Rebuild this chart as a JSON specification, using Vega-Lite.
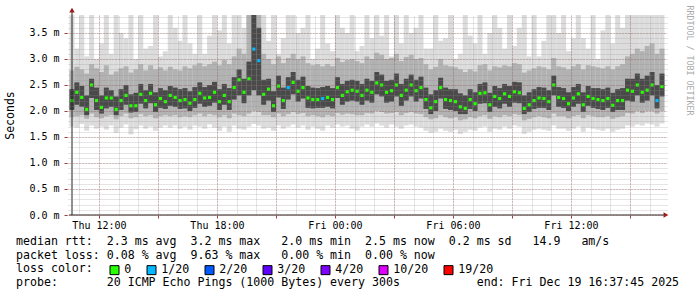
{
"$schema": "https://vega.github.io/schema/vega-lite/v6.json",
"width": 600, "height": 200,
"autosize": "none",
"padding": {"left": 67, "top": 15, "right": 30, "bottom": 82},
"background": "white",
"config": {"font": "DejaVu Sans Mono", "view": {"stroke": null},
  "axis": {"labelFont": "DejaVu Sans Mono", "titleFont": "DejaVu Sans Mono", "labelColor": "black", "titleColor": "black", "titleFontWeight": "normal", "labelFontSize": 10}},
"title": {
 "text": ["median rtt:\u00a0\u00a02.3 ms avg\u00a0\u00a03.2 ms max\u00a0\u00a0\u00a02.0 ms min\u00a0\u00a02.5 ms now\u00a0\u00a00.2 ms sd\u00a0\u00a0\u00a014.9\u00a0\u00a0\u00a0am/s",
  "packet loss: 0.08 % avg\u00a0\u00a09.63 % max\u00a0\u00a0\u00a00.00 % min\u00a0\u00a00.00 % now",
  "loss color:",
  "probe:\u00a0\u00a0\u00a0\u00a0\u00a0\u00a0\u00a020 ICMP Echo Pings (1000 Bytes) every 300s\u00a0\u00a0\u00a0\u00a0\u00a0\u00a0\u00a0\u00a0\u00a0\u00a0\u00a0end: Fri Dec 19 16:37:45 2025"],
 "orient": "bottom", "anchor": "start", "frame": "group", "dx": -51, "dy": -47, "offset": 6,
 "font": "DejaVu Sans Mono", "fontSize": 11.6, "fontWeight": "normal", "color": "black", "lineHeight": 13.7, "baseline": "top"
},
"datasets": {"smoke": [
{"t":"2025-12-18T10:37:30Z","mn":1.70,"lo":1.88,"q1":2.02,"md":2.20,"q3":2.42,"hi":2.78,"mx":3.9,"loss":"0"},
{"t":"2025-12-18T10:52:30Z","mn":1.68,"lo":1.90,"q1":2.12,"md":2.36,"q3":2.55,"hi":2.85,"mx":3.2,"loss":"0"},
{"t":"2025-12-18T11:07:30Z","mn":1.75,"lo":1.92,"q1":2.08,"md":2.26,"q3":2.48,"hi":2.80,"mx":3.9,"loss":"0"},
{"t":"2025-12-18T11:22:30Z","mn":1.62,"lo":1.85,"q1":1.92,"md":2.03,"q3":2.30,"hi":2.72,"mx":3.05,"loss":"0"},
{"t":"2025-12-18T11:37:30Z","mn":1.72,"lo":1.95,"q1":2.25,"md":2.50,"q3":2.62,"hi":2.90,"mx":3.9,"loss":"0"},
{"t":"2025-12-18T11:52:30Z","mn":1.66,"lo":1.88,"q1":2.02,"md":2.20,"q3":2.45,"hi":2.82,"mx":3.0,"loss":"0"},
{"t":"2025-12-18T12:07:30Z","mn":1.70,"lo":1.86,"q1":1.95,"md":2.07,"q3":2.30,"hi":2.75,"mx":3.3,"loss":"0"},
{"t":"2025-12-18T12:22:30Z","mn":1.64,"lo":1.90,"q1":2.05,"md":2.25,"q3":2.45,"hi":2.88,"mx":3.9,"loss":"0"},
{"t":"2025-12-18T12:37:30Z","mn":1.72,"lo":1.92,"q1":2.08,"md":2.25,"q3":2.40,"hi":2.70,"mx":3.1,"loss":"0"},
{"t":"2025-12-18T12:52:30Z","mn":1.58,"lo":1.84,"q1":1.92,"md":2.03,"q3":2.28,"hi":2.76,"mx":3.9,"loss":"0"},
{"t":"2025-12-18T13:07:30Z","mn":1.68,"lo":1.90,"q1":2.02,"md":2.20,"q3":2.42,"hi":2.82,"mx":3.5,"loss":"0"},
{"t":"2025-12-18T13:22:30Z","mn":1.74,"lo":1.95,"q1":2.12,"md":2.30,"q3":2.50,"hi":2.86,"mx":3.4,"loss":"0"},
{"t":"2025-12-18T13:37:30Z","mn":1.55,"lo":1.86,"q1":1.97,"md":2.10,"q3":2.32,"hi":2.74,"mx":3.9,"loss":"0"},
{"t":"2025-12-18T13:52:30Z","mn":1.65,"lo":1.88,"q1":1.98,"md":2.10,"q3":2.35,"hi":2.80,"mx":3.0,"loss":"0"},
{"t":"2025-12-18T14:07:30Z","mn":1.72,"lo":1.94,"q1":2.14,"md":2.32,"q3":2.52,"hi":2.90,"mx":3.9,"loss":"0"},
{"t":"2025-12-18T14:22:30Z","mn":1.66,"lo":1.90,"q1":2.05,"md":2.20,"q3":2.40,"hi":2.78,"mx":3.2,"loss":"0"},
{"t":"2025-12-18T14:37:30Z","mn":1.70,"lo":1.92,"q1":2.15,"md":2.34,"q3":2.52,"hi":2.88,"mx":3.25,"loss":"0"},
{"t":"2025-12-18T14:52:30Z","mn":1.62,"lo":1.86,"q1":1.98,"md":2.12,"q3":2.36,"hi":2.80,"mx":3.9,"loss":"0"},
{"t":"2025-12-18T15:07:30Z","mn":1.68,"lo":1.90,"q1":2.06,"md":2.24,"q3":2.44,"hi":2.84,"mx":3.05,"loss":"0"},
{"t":"2025-12-18T15:22:30Z","mn":1.72,"lo":1.92,"q1":2.04,"md":2.18,"q3":2.40,"hi":2.78,"mx":3.15,"loss":"0"},
{"t":"2025-12-18T15:37:30Z","mn":1.68,"lo":1.90,"q1":2.10,"md":2.30,"q3":2.48,"hi":2.85,"mx":3.9,"loss":"0"},
{"t":"2025-12-18T15:52:30Z","mn":1.72,"lo":1.92,"q1":2.08,"md":2.26,"q3":2.45,"hi":2.80,"mx":3.6,"loss":"0"},
{"t":"2025-12-18T16:07:30Z","mn":1.66,"lo":1.88,"q1":2.04,"md":2.20,"q3":2.42,"hi":2.78,"mx":3.35,"loss":"0"},
{"t":"2025-12-18T16:22:30Z","mn":1.70,"lo":1.90,"q1":2.05,"md":2.22,"q3":2.44,"hi":2.86,"mx":3.9,"loss":"0"},
{"t":"2025-12-18T16:37:30Z","mn":1.64,"lo":1.88,"q1":2.00,"md":2.15,"q3":2.38,"hi":2.82,"mx":3.3,"loss":"0"},
{"t":"2025-12-18T16:52:30Z","mn":1.72,"lo":1.92,"q1":2.06,"md":2.22,"q3":2.46,"hi":2.88,"mx":3.1,"loss":"0"},
{"t":"2025-12-18T17:07:30Z","mn":1.70,"lo":1.95,"q1":2.14,"md":2.34,"q3":2.55,"hi":2.92,"mx":3.9,"loss":"0"},
{"t":"2025-12-18T17:22:30Z","mn":1.66,"lo":1.90,"q1":2.08,"md":2.25,"q3":2.46,"hi":2.86,"mx":3.1,"loss":"0"},
{"t":"2025-12-18T17:37:30Z","mn":1.74,"lo":1.94,"q1":2.10,"md":2.26,"q3":2.50,"hi":2.90,"mx":3.45,"loss":"0"},
{"t":"2025-12-18T17:52:30Z","mn":1.68,"lo":1.92,"q1":2.16,"md":2.36,"q3":2.56,"hi":2.95,"mx":3.9,"loss":"0"},
{"t":"2025-12-18T18:07:30Z","mn":1.62,"lo":1.88,"q1":2.02,"md":2.18,"q3":2.42,"hi":2.88,"mx":3.55,"loss":"0"},
{"t":"2025-12-18T18:22:30Z","mn":1.70,"lo":1.92,"q1":2.12,"md":2.30,"q3":2.52,"hi":2.98,"mx":3.9,"loss":"0"},
{"t":"2025-12-18T18:37:30Z","mn":1.60,"lo":1.86,"q1":2.02,"md":2.18,"q3":2.44,"hi":2.90,"mx":3.3,"loss":"0"},
{"t":"2025-12-18T18:52:30Z","mn":1.72,"lo":1.95,"q1":2.22,"md":2.45,"q3":2.65,"hi":3.05,"mx":3.9,"loss":"0"},
{"t":"2025-12-18T19:07:30Z","mn":1.66,"lo":1.92,"q1":2.30,"md":2.60,"q3":2.80,"hi":3.20,"mx":3.9,"loss":"0"},
{"t":"2025-12-18T19:22:30Z","mn":1.64,"lo":1.90,"q1":2.15,"md":2.36,"q3":2.62,"hi":3.10,"mx":3.6,"loss":"0"},
{"t":"2025-12-18T19:37:30Z","mn":1.70,"lo":1.95,"q1":2.30,"md":2.62,"q3":2.95,"hi":3.9,"mx":3.9,"loss":"0"},
{"t":"2025-12-18T19:52:30Z","mn":1.75,"lo":2.00,"q1":2.40,"md":3.19,"q3":3.9,"hi":3.9,"mx":3.9,"loss":"1/20"},
{"t":"2025-12-18T20:07:30Z","mn":1.72,"lo":1.98,"q1":2.30,"md":2.97,"q3":3.6,"hi":3.9,"mx":3.9,"loss":"1/20"},
{"t":"2025-12-18T20:22:30Z","mn":1.66,"lo":1.92,"q1":2.12,"md":2.32,"q3":2.60,"hi":3.10,"mx":3.9,"loss":"0"},
{"t":"2025-12-18T20:37:30Z","mn":1.68,"lo":1.92,"q1":2.20,"md":2.42,"q3":2.62,"hi":3.00,"mx":3.35,"loss":"0"},
{"t":"2025-12-18T20:52:30Z","mn":1.62,"lo":1.88,"q1":1.98,"md":2.10,"q3":2.38,"hi":2.90,"mx":3.9,"loss":"0"},
{"t":"2025-12-18T21:07:30Z","mn":1.72,"lo":1.95,"q1":2.26,"md":2.48,"q3":2.68,"hi":3.05,"mx":3.1,"loss":"0"},
{"t":"2025-12-18T21:22:30Z","mn":1.66,"lo":1.90,"q1":2.04,"md":2.20,"q3":2.45,"hi":2.92,"mx":3.4,"loss":"0"},
{"t":"2025-12-18T21:37:30Z","mn":1.70,"lo":1.94,"q1":2.22,"md":2.45,"q3":2.65,"hi":3.02,"mx":3.9,"loss":"1/20"},
{"t":"2025-12-18T21:52:30Z","mn":1.74,"lo":1.98,"q1":2.32,"md":2.55,"q3":2.75,"hi":3.10,"mx":3.9,"loss":"0"},
{"t":"2025-12-18T22:07:30Z","mn":1.68,"lo":1.94,"q1":2.18,"md":2.38,"q3":2.60,"hi":3.00,"mx":3.5,"loss":"0"},
{"t":"2025-12-18T22:22:30Z","mn":1.72,"lo":1.96,"q1":2.24,"md":2.45,"q3":2.66,"hi":3.05,"mx":3.6,"loss":"0"},
{"t":"2025-12-18T22:37:30Z","mn":1.64,"lo":1.90,"q1":2.06,"md":2.25,"q3":2.48,"hi":2.92,"mx":3.9,"loss":"0"},
{"t":"2025-12-18T22:52:30Z","mn":1.70,"lo":1.92,"q1":2.05,"md":2.22,"q3":2.45,"hi":2.88,"mx":3.0,"loss":"0"},
{"t":"2025-12-18T23:07:30Z","mn":1.66,"lo":1.90,"q1":2.06,"md":2.22,"q3":2.44,"hi":2.90,"mx":3.2,"loss":"0"},
{"t":"2025-12-18T23:22:30Z","mn":1.62,"lo":1.88,"q1":2.06,"md":2.24,"q3":2.46,"hi":2.86,"mx":3.9,"loss":"1/20"},
{"t":"2025-12-18T23:37:30Z","mn":1.72,"lo":1.92,"q1":2.08,"md":2.26,"q3":2.48,"hi":2.90,"mx":3.3,"loss":"0"},
{"t":"2025-12-18T23:52:30Z","mn":1.68,"lo":1.90,"q1":2.05,"md":2.22,"q3":2.44,"hi":2.86,"mx":3.15,"loss":"0"},
{"t":"2025-12-19T00:07:30Z","mn":1.74,"lo":1.96,"q1":2.25,"md":2.45,"q3":2.65,"hi":3.02,"mx":3.9,"loss":"0"},
{"t":"2025-12-19T00:22:30Z","mn":1.70,"lo":1.93,"q1":2.12,"md":2.30,"q3":2.52,"hi":2.94,"mx":3.6,"loss":"0"},
{"t":"2025-12-19T00:37:30Z","mn":1.72,"lo":1.95,"q1":2.18,"md":2.37,"q3":2.58,"hi":2.98,"mx":3.5,"loss":"0"},
{"t":"2025-12-19T00:52:30Z","mn":1.66,"lo":1.94,"q1":2.20,"md":2.40,"q3":2.60,"hi":3.00,"mx":3.9,"loss":"0"},
{"t":"2025-12-19T01:07:30Z","mn":1.62,"lo":1.92,"q1":2.18,"md":2.38,"q3":2.58,"hi":2.96,"mx":3.15,"loss":"0"},
{"t":"2025-12-19T01:22:30Z","mn":1.70,"lo":1.92,"q1":2.12,"md":2.30,"q3":2.52,"hi":2.92,"mx":3.25,"loss":"0"},
{"t":"2025-12-19T01:37:30Z","mn":1.74,"lo":1.96,"q1":2.20,"md":2.40,"q3":2.62,"hi":3.05,"mx":3.9,"loss":"0"},
{"t":"2025-12-19T01:52:30Z","mn":1.70,"lo":1.95,"q1":2.16,"md":2.36,"q3":2.58,"hi":3.00,"mx":3.4,"loss":"0"},
{"t":"2025-12-19T02:07:30Z","mn":1.76,"lo":2.00,"q1":2.32,"md":2.54,"q3":2.75,"hi":3.12,"mx":3.9,"loss":"0"},
{"t":"2025-12-19T02:22:30Z","mn":1.72,"lo":1.98,"q1":2.28,"md":2.50,"q3":2.70,"hi":3.08,"mx":3.45,"loss":"0"},
{"t":"2025-12-19T02:37:30Z","mn":1.68,"lo":1.95,"q1":2.16,"md":2.36,"q3":2.58,"hi":3.00,"mx":3.9,"loss":"0"},
{"t":"2025-12-19T02:52:30Z","mn":1.74,"lo":1.96,"q1":2.18,"md":2.39,"q3":2.60,"hi":3.02,"mx":3.05,"loss":"0"},
{"t":"2025-12-19T03:07:30Z","mn":1.70,"lo":1.98,"q1":2.28,"md":2.50,"q3":2.72,"hi":3.10,"mx":3.9,"loss":"0"},
{"t":"2025-12-19T03:22:30Z","mn":1.66,"lo":1.92,"q1":2.10,"md":2.30,"q3":2.52,"hi":2.96,"mx":3.3,"loss":"0"},
{"t":"2025-12-19T03:37:30Z","mn":1.72,"lo":1.96,"q1":2.20,"md":2.40,"q3":2.62,"hi":3.04,"mx":3.9,"loss":"0"},
{"t":"2025-12-19T03:52:30Z","mn":1.74,"lo":1.98,"q1":2.28,"md":2.50,"q3":2.70,"hi":3.08,"mx":3.5,"loss":"0"},
{"t":"2025-12-19T04:07:30Z","mn":1.70,"lo":1.95,"q1":2.18,"md":2.39,"q3":2.60,"hi":3.00,"mx":3.6,"loss":"0"},
{"t":"2025-12-19T04:22:30Z","mn":1.68,"lo":1.94,"q1":2.24,"md":2.45,"q3":2.66,"hi":3.02,"mx":3.9,"loss":"0"},
{"t":"2025-12-19T04:37:30Z","mn":1.62,"lo":1.88,"q1":2.04,"md":2.22,"q3":2.45,"hi":2.90,"mx":3.2,"loss":"0"},
{"t":"2025-12-19T04:52:30Z","mn":1.58,"lo":1.84,"q1":1.94,"md":2.06,"q3":2.32,"hi":2.80,"mx":3.2,"loss":"0"},
{"t":"2025-12-19T05:07:30Z","mn":1.60,"lo":1.86,"q1":2.00,"md":2.18,"q3":2.40,"hi":2.85,"mx":3.9,"loss":"0"},
{"t":"2025-12-19T05:22:30Z","mn":1.66,"lo":1.92,"q1":2.24,"md":2.45,"q3":2.64,"hi":3.00,"mx":3.35,"loss":"0"},
{"t":"2025-12-19T05:37:30Z","mn":1.62,"lo":1.88,"q1":2.04,"md":2.22,"q3":2.45,"hi":2.88,"mx":3.4,"loss":"0"},
{"t":"2025-12-19T05:52:30Z","mn":1.60,"lo":1.86,"q1":2.02,"md":2.20,"q3":2.42,"hi":2.86,"mx":3.9,"loss":"0"},
{"t":"2025-12-19T06:07:30Z","mn":1.64,"lo":1.88,"q1":2.00,"md":2.18,"q3":2.42,"hi":2.84,"mx":3.0,"loss":"0"},
{"t":"2025-12-19T06:22:30Z","mn":1.56,"lo":1.82,"q1":1.94,"md":2.08,"q3":2.34,"hi":2.80,"mx":3.1,"loss":"0"},
{"t":"2025-12-19T06:37:30Z","mn":1.60,"lo":1.84,"q1":1.94,"md":2.05,"q3":2.30,"hi":2.75,"mx":3.9,"loss":"0"},
{"t":"2025-12-19T06:52:30Z","mn":1.64,"lo":1.88,"q1":2.04,"md":2.22,"q3":2.42,"hi":2.80,"mx":3.45,"loss":"0"},
{"t":"2025-12-19T07:07:30Z","mn":1.62,"lo":1.86,"q1":2.00,"md":2.14,"q3":2.36,"hi":2.76,"mx":3.3,"loss":"0"},
{"t":"2025-12-19T07:22:30Z","mn":1.68,"lo":1.90,"q1":2.14,"md":2.34,"q3":2.52,"hi":2.88,"mx":3.9,"loss":"0"},
{"t":"2025-12-19T07:37:30Z","mn":1.70,"lo":1.92,"q1":2.15,"md":2.35,"q3":2.55,"hi":2.90,"mx":3.1,"loss":"0"},
{"t":"2025-12-19T07:52:30Z","mn":1.60,"lo":1.85,"q1":1.98,"md":2.12,"q3":2.35,"hi":2.78,"mx":3.5,"loss":"0"},
{"t":"2025-12-19T08:07:30Z","mn":1.66,"lo":1.90,"q1":2.08,"md":2.28,"q3":2.48,"hi":2.86,"mx":3.9,"loss":"0"},
{"t":"2025-12-19T08:22:30Z","mn":1.64,"lo":1.88,"q1":2.05,"md":2.24,"q3":2.44,"hi":2.84,"mx":3.6,"loss":"0"},
{"t":"2025-12-19T08:37:30Z","mn":1.70,"lo":1.92,"q1":2.14,"md":2.33,"q3":2.52,"hi":2.88,"mx":3.2,"loss":"0"},
{"t":"2025-12-19T08:52:30Z","mn":1.66,"lo":1.90,"q1":2.08,"md":2.28,"q3":2.48,"hi":2.86,"mx":3.9,"loss":"0"},
{"t":"2025-12-19T09:07:30Z","mn":1.72,"lo":1.94,"q1":2.16,"md":2.37,"q3":2.56,"hi":2.92,"mx":3.25,"loss":"0"},
{"t":"2025-12-19T09:22:30Z","mn":1.70,"lo":1.92,"q1":2.15,"md":2.35,"q3":2.55,"hi":2.90,"mx":3.6,"loss":"0"},
{"t":"2025-12-19T09:37:30Z","mn":1.56,"lo":1.82,"q1":1.94,"md":2.05,"q3":2.30,"hi":2.74,"mx":3.9,"loss":"0"},
{"t":"2025-12-19T09:52:30Z","mn":1.60,"lo":1.85,"q1":1.98,"md":2.12,"q3":2.36,"hi":2.78,"mx":3.05,"loss":"0"},
{"t":"2025-12-19T10:07:30Z","mn":1.64,"lo":1.88,"q1":2.04,"md":2.20,"q3":2.42,"hi":2.82,"mx":3.9,"loss":"0"},
{"t":"2025-12-19T10:22:30Z","mn":1.66,"lo":1.90,"q1":2.06,"md":2.25,"q3":2.46,"hi":2.86,"mx":3.05,"loss":"0"},
{"t":"2025-12-19T10:37:30Z","mn":1.64,"lo":1.88,"q1":2.06,"md":2.24,"q3":2.45,"hi":2.84,"mx":3.35,"loss":"0"},
{"t":"2025-12-19T10:52:30Z","mn":1.62,"lo":1.86,"q1":2.02,"md":2.18,"q3":2.40,"hi":2.80,"mx":3.9,"loss":"0"},
{"t":"2025-12-19T11:07:30Z","mn":1.72,"lo":1.95,"q1":2.30,"md":2.50,"q3":2.68,"hi":3.02,"mx":3.9,"loss":"0"},
{"t":"2025-12-19T11:22:30Z","mn":1.66,"lo":1.90,"q1":2.08,"md":2.26,"q3":2.46,"hi":2.86,"mx":3.5,"loss":"0"},
{"t":"2025-12-19T11:37:30Z","mn":1.66,"lo":1.90,"q1":2.06,"md":2.24,"q3":2.44,"hi":2.84,"mx":3.9,"loss":"0"},
{"t":"2025-12-19T11:52:30Z","mn":1.62,"lo":1.86,"q1":2.00,"md":2.14,"q3":2.36,"hi":2.80,"mx":3.15,"loss":"0"},
{"t":"2025-12-19T12:07:30Z","mn":1.66,"lo":1.90,"q1":2.08,"md":2.25,"q3":2.46,"hi":2.86,"mx":3.4,"loss":"0"},
{"t":"2025-12-19T12:22:30Z","mn":1.70,"lo":1.92,"q1":2.14,"md":2.33,"q3":2.52,"hi":2.90,"mx":3.9,"loss":"0"},
{"t":"2025-12-19T12:37:30Z","mn":1.60,"lo":1.86,"q1":1.98,"md":2.12,"q3":2.36,"hi":2.80,"mx":3.4,"loss":"0"},
{"t":"2025-12-19T12:52:30Z","mn":1.68,"lo":1.92,"q1":2.10,"md":2.28,"q3":2.48,"hi":2.88,"mx":3.2,"loss":"0"},
{"t":"2025-12-19T13:07:30Z","mn":1.66,"lo":1.90,"q1":2.06,"md":2.24,"q3":2.44,"hi":2.86,"mx":3.9,"loss":"0"},
{"t":"2025-12-19T13:22:30Z","mn":1.64,"lo":1.88,"q1":2.04,"md":2.22,"q3":2.44,"hi":2.84,"mx":3.0,"loss":"0"},
{"t":"2025-12-19T13:37:30Z","mn":1.62,"lo":1.88,"q1":2.02,"md":2.20,"q3":2.42,"hi":2.82,"mx":3.55,"loss":"0"},
{"t":"2025-12-19T13:52:30Z","mn":1.66,"lo":1.90,"q1":2.06,"md":2.24,"q3":2.45,"hi":2.86,"mx":3.9,"loss":"0"},
{"t":"2025-12-19T14:07:30Z","mn":1.60,"lo":1.85,"q1":1.98,"md":2.11,"q3":2.35,"hi":2.80,"mx":3.3,"loss":"0"},
{"t":"2025-12-19T14:22:30Z","mn":1.64,"lo":1.88,"q1":2.02,"md":2.20,"q3":2.42,"hi":2.86,"mx":3.9,"loss":"0"},
{"t":"2025-12-19T14:37:30Z","mn":1.66,"lo":1.90,"q1":2.02,"md":2.20,"q3":2.44,"hi":2.90,"mx":3.6,"loss":"0"},
{"t":"2025-12-19T14:52:30Z","mn":1.72,"lo":1.96,"q1":2.20,"md":2.40,"q3":2.62,"hi":3.05,"mx":3.9,"loss":"0"},
{"t":"2025-12-19T15:07:30Z","mn":1.70,"lo":1.95,"q1":2.18,"md":2.38,"q3":2.62,"hi":3.10,"mx":3.9,"loss":"0"},
{"t":"2025-12-19T15:22:30Z","mn":1.74,"lo":2.00,"q1":2.30,"md":2.50,"q3":2.72,"hi":3.20,"mx":3.9,"loss":"0"},
{"t":"2025-12-19T15:37:30Z","mn":1.72,"lo":1.96,"q1":2.16,"md":2.36,"q3":2.62,"hi":3.15,"mx":3.9,"loss":"0"},
{"t":"2025-12-19T15:52:30Z","mn":1.76,"lo":2.00,"q1":2.20,"md":2.40,"q3":2.68,"hi":3.25,"mx":3.9,"loss":"0"},
{"t":"2025-12-19T16:07:30Z","mn":1.74,"lo":2.00,"q1":2.30,"md":2.50,"q3":2.75,"hi":3.30,"mx":3.9,"loss":"0"},
{"t":"2025-12-19T16:22:30Z","mn":1.70,"lo":1.95,"q1":2.05,"md":2.20,"q3":2.50,"hi":3.10,"mx":3.9,"loss":"1/20"},
{"t":"2025-12-19T16:37:30Z","mn":1.76,"lo":2.00,"q1":2.28,"md":2.47,"q3":2.72,"hi":3.20,"mx":3.9,"loss":"0"}
]},
"data": {"name": "smoke"},
"layer": [
 {"mark": {"type": "bar", "clip": true, "color": "#dcdcdc", "width": 5},
  "encoding": {
   "x": {"field": "t", "type": "temporal",
     "scale": {"type": "utc", "domain": [1766054265000, 1766162265000]},
     "axis": {"title": null, "values": [1766059200000, 1766070000000, 1766080800000, 1766091600000, 1766102400000, 1766113200000, 1766124000000, 1766134800000, 1766145600000, 1766156400000], "grid": true, "gridColor": "#a04040", "gridOpacity": 0.55, "gridDash": [1, 2], "domain": false, "ticks": true, "tickColor": "#a04040", "tickSize": 3, "labelExpr": "utchours(datum.value) % 6 == 0 ? utcFormat(datum.value, '%a %H:%M') : ''", "labelFontSize": 10, "labelPadding": 2, "labelOverlap": false, "labelFlush": false, "zindex": 1}},
   "y": {"field": "mn", "type": "quantitative", "scale": {"domain": [0, 3.846], "nice": false},
     "axis": {"title": "Seconds", "values": [0, 0.5, 1, 1.5, 2, 2.5, 3, 3.5], "labelExpr": "format(datum.value, '.1f') + ' m'", "grid": true, "gridColor": "#a04040", "gridOpacity": 0.55, "gridDash": [1, 2], "domain": false, "tickColor": "#a04040", "tickSize": 3, "labelPadding": 5, "labelFontSize": 10, "titleFontSize": 11.5, "titlePadding": 13, "zindex": 1}},
   "y2": {"field": "mx"}
  }},
 {"mark": {"type": "bar", "clip": true, "color": "#b2b2b2", "width": 5},
  "encoding": {
   "x": {"field": "t", "type": "temporal",
     "axis": {"title": null, "orient": "top", "values": [1766055600000,1766059200000,1766062800000,1766066400000,1766070000000,1766073600000,1766077200000,1766080800000,1766084400000,1766088000000,1766091600000,1766095200000,1766098800000,1766102400000,1766106000000,1766109600000,1766113200000,1766116800000,1766120400000,1766124000000,1766127600000,1766131200000,1766134800000,1766138400000,1766142000000,1766145600000,1766149200000,1766152800000,1766156400000,1766160000000], "grid": true, "gridColor": "#8c8c8c", "gridOpacity": 0.45, "gridDash": [1, 1], "domain": false, "ticks": false, "labels": false, "zindex": 1}},
   "y": {"field": "lo", "type": "quantitative",
     "axis": {"orient": "right", "values": [0.1,0.2,0.3,0.4,0.5,0.6,0.7,0.8,0.9,1.0,1.1,1.2,1.3,1.4,1.5,1.6,1.7,1.8,1.9,2.0,2.1,2.2,2.3,2.4,2.5,2.6,2.7,2.8,2.9,3.0,3.1,3.2,3.3,3.4,3.5,3.6,3.7,3.8], "grid": true, "gridColor": "#8c8c8c", "gridOpacity": 0.45, "gridDash": [1, 1], "domain": false, "ticks": false, "labels": false, "title": "RRDTOOL / TOBI OETIKER", "titleAngle": 90, "titleFontSize": 8.3, "titleColor": "#aaaaaa", "titleX": 21, "titleY": -10, "titleAlign": "left", "titleBaseline": "middle", "zindex": 1}},
   "y2": {"field": "hi"}
  }},
 {"mark": {"type": "bar", "clip": true, "color": "#4a4a4a", "width": 5},
  "encoding": {
   "x": {"field": "t", "type": "temporal", "axis": null},
   "y": {"field": "q1", "type": "quantitative", "axis": null},
   "y2": {"field": "q3"}
  }},
 {"mark": {"type": "point", "shape": "square", "filled": true, "size": 10, "opacity": 1, "strokeWidth": 0, "clip": true},
  "encoding": {
   "x": {"field": "t", "type": "temporal", "axis": null},
   "y": {"field": "md", "type": "quantitative", "axis": null},
   "color": {"field": "loss", "type": "nominal",
     "scale": {"domain": ["0", "1/20", "2/20", "3/20", "4/20", "10/20", "19/20"], "range": ["#26ff00", "#00b8ff", "#0059ff", "#5e00ff", "#7e00ff", "#dd00ff", "#ff0000"]},
     "legend": {"orient": "none", "legendX": 41.7, "legendY": 249, "direction": "horizontal", "title": null, "labelFont": "DejaVu Sans Mono", "labelFontSize": 11.6, "labelColor": "black", "labelOffset": 4, "columnPadding": 13, "symbolType": "square", "symbolSize": 81, "symbolOpacity": 1, "padding": 0,
       "encode": {"symbols": {"update": {"stroke": {"value": "black"}, "strokeWidth": {"value": 1}}}}}}
  }},
 {"data": {"values": [{"t": "2025-12-18T10:37:45Z", "v0": 0, "v1": 3.9}]},
  "mark": {"type": "rule", "color": "#202020", "strokeWidth": 1},
  "encoding": {"x": {"field": "t", "type": "temporal", "axis": null}, "y": {"field": "v0", "type": "quantitative", "axis": null}, "y2": {"field": "v1"}}},
 {"data": {"values": [{"t0": "2025-12-18T10:28:45Z", "t1": "2025-12-19T16:43:45Z", "v": 0}]},
  "mark": {"type": "rule", "color": "#202020", "strokeWidth": 1},
  "encoding": {"x": {"field": "t0", "type": "temporal", "axis": null}, "x2": {"field": "t1"}, "y": {"field": "v", "type": "quantitative", "axis": null}}},
 {"data": {"values": [{"t": "2025-12-18T10:37:45Z", "v": 3.94}]},
  "mark": {"type": "point", "shape": "triangle-up", "filled": true, "size": 30, "opacity": 1, "color": "#991a1a"},
  "encoding": {"x": {"field": "t", "type": "temporal", "axis": null}, "y": {"field": "v", "type": "quantitative", "axis": null}}},
 {"data": {"values": [{"t": "2025-12-19T16:49:45Z", "v": 0}]},
  "mark": {"type": "point", "shape": "triangle-right", "filled": true, "size": 30, "opacity": 1, "color": "#991a1a"},
  "encoding": {"x": {"field": "t", "type": "temporal", "axis": null}, "y": {"field": "v", "type": "quantitative", "axis": null}}}
],
"resolve": {"axis": {"x": "independent", "y": "independent"}}
}
